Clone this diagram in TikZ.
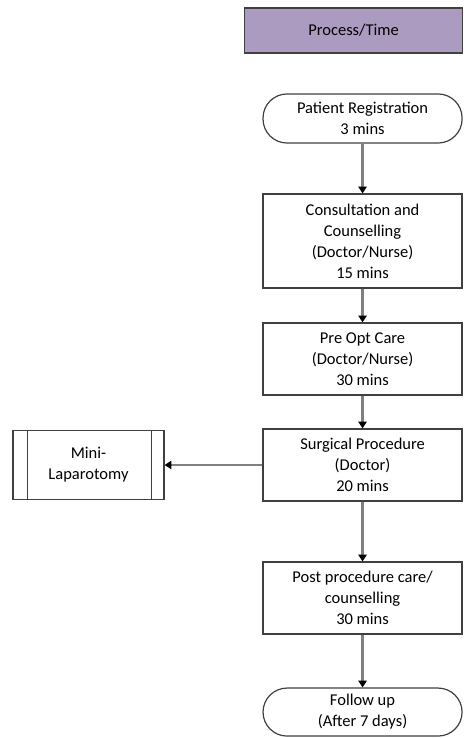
\documentclass[tikz,border=0pt]{standalone}
\usepackage{fontspec}
\setmainfont{Carlito}
\usepackage{tikz}
\usetikzlibrary{arrows.meta,positioning,shapes,calc}
\definecolor{headfill}{RGB}{171,155,193}
\definecolor{boxline}{RGB}{64,64,64}
\definecolor{flowline}{RGB}{128,128,128}

\begin{document}
\begin{tikzpicture}[->,>={Triangle[black,length=4.5pt,width=5.5pt]},node distance=80pt,line width=1.2pt]
        \tikzstyle{stage} = [rectangle, draw=boxline, line width=0.8pt, minimum width=132.7pt, align=center, inner sep=0pt, font=\fontsize{11pt}{14pt}\selectfont]
        \tikzstyle{terminal} = [stage, rounded corners=16pt]
        \tikzstyle{header} = [stage, fill=headfill, minimum width=145.3pt, minimum height=30pt]
        \tikzstyle{flow} = [draw=flowline, line width=1.5pt]

        \useasboundingbox (0,0) rectangle (308.7pt,-492pt);

        % Nodes
        \node[header] (head) at (235.7pt,-20.3pt) {Process/Time};
        \node[terminal, minimum height=32.7pt] (reg) at (241.7pt,-79pt) {Patient Registration\\3 mins};
        \node[stage, minimum height=62.7pt, below of=reg, node distance=81.7pt] (consult) {Consultation and\\Counselling\\(Doctor/Nurse)\\15 mins};
        \node[stage, minimum height=48pt, below of=consult, node distance=78.6pt] (preopt) {Pre Opt Care\\(Doctor/Nurse)\\30 mins};
        \node[stage, minimum height=48pt, below of=preopt, node distance=70.7pt] (surg) {Surgical Procedure\\(Doctor)\\20 mins};
        \node[stage, minimum height=48pt, below of=surg, node distance=88.7pt] (post) {Post procedure care/\\counselling\\30 mins};
        \node[terminal, minimum height=32pt, below of=post, node distance=76pt] (follow) {Follow up\\(After 7 days)};
        \node[stage, minimum width=100.7pt, minimum height=46pt, left of=surg, node distance=182.7pt] (mini) {Mini-\\Laparotomy};
        \draw[-, draw=boxline, line width=0.8pt] ([xshift=10pt]mini.north west) -- ([xshift=10pt]mini.south west);
        \draw[-, draw=boxline, line width=0.8pt] ([xshift=-8.7pt]mini.north east) -- ([xshift=-8.7pt]mini.south east);

        % Edges
        \path (reg) edge[flow] (consult);
        \path (consult) edge[flow] (preopt);
        \path (preopt) edge[flow] (surg);
        \path (surg) edge[flow] (mini);
        \path (surg) edge[flow] (post);
        \path (post) edge[flow] (follow);
    \end{tikzpicture}
\end{document}
